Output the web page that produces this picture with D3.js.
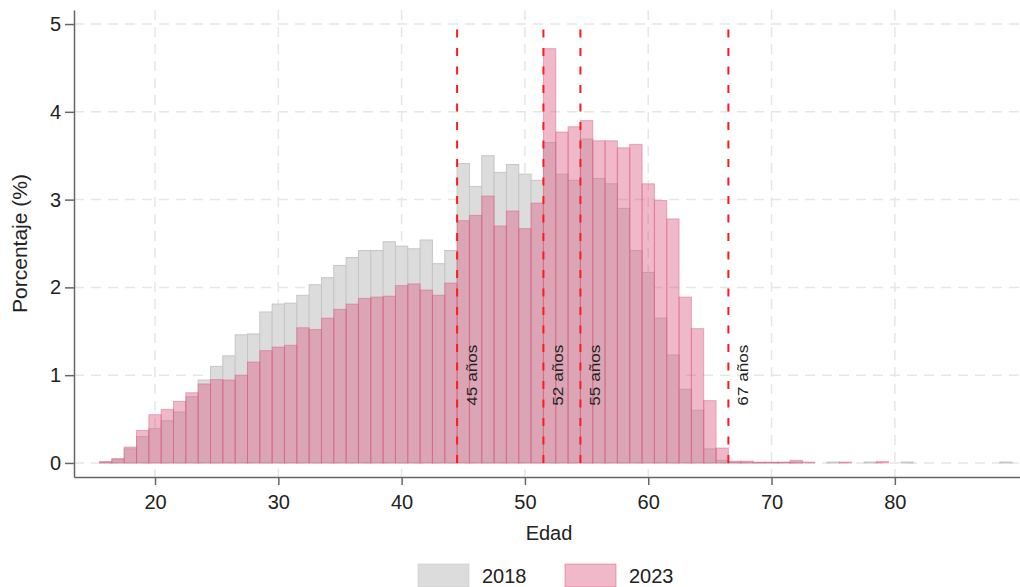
<!DOCTYPE html>
<html>
<head>
<meta charset="utf-8">
<script src="https://cdn.jsdelivr.net/npm/d3@7"></script>
<style>
  body { margin: 0; background: #fff; }
  text { font-family: "Liberation Sans", Arial, sans-serif; fill: #222; }
</style>
</head>
<body>
<div id="chart"></div>
<script>
const ages = d3.range(15, 90);

const values2018 = [
  0, 0.01, 0.04, 0.16, 0.30, 0.39, 0.48, 0.58, 0.755, 0.945,
  1.10, 1.22, 1.46, 1.47, 1.72, 1.81, 1.82, 1.91, 2.03, 2.11,
  2.25, 2.34, 2.42, 2.42, 2.52, 2.47, 2.44, 2.54, 2.27, 2.42,
  3.41, 3.15, 3.50, 3.31, 3.40, 3.29, 3.22, 3.65, 3.29, 3.22,
  3.69, 3.24, 3.18, 2.90, 2.42, 2.17, 1.65, 1.23, 0.84, 0.60,
  0.16, 0.03, 0.01, 0.01, 0.005, 0.005, 0.005, 0.01, 0, 0,
  0.01, 0, 0, 0.01, 0, 0, 0.01, 0, 0, 0,
  0, 0, 0, 0, 0.01
];

const values2023 = [
  0, 0.015, 0.05, 0.18, 0.37, 0.55, 0.61, 0.70, 0.80, 0.90,
  0.95, 0.945, 1.00, 1.15, 1.28, 1.32, 1.34, 1.54, 1.52, 1.65,
  1.75, 1.81, 1.875, 1.89, 1.90, 2.02, 2.04, 1.97, 1.91, 2.05,
  2.76, 2.82, 3.04, 2.70, 2.87, 2.67, 2.96, 4.72, 3.77, 3.83,
  3.90, 3.67, 3.67, 3.59, 3.63, 3.18, 2.99, 2.78, 1.89, 1.53,
  0.71, 0.17, 0.02, 0.02, 0.01, 0.01, 0.01, 0.03, 0.01, 0,
  0, 0.01, 0, 0, 0.015, 0, 0, 0, 0, 0,
  0, 0, 0, 0, 0
];

const xTicks = [20, 30, 40, 50, 60, 70, 80];
const yTicks = [0, 1, 2, 3, 4, 5];
const cutoffAges = [45, 52, 55, 67];
const seriesNames = ['2018', '2023'];

const size = { width: 1020, height: 587 };

const svg = d3.select('#chart').append('svg')
  .attr('width', size.width)
  .attr('height', size.height);

const x = d3.scaleLinear().domain([13.43, 90.15]).range([74, 1020]);
const y = d3.scaleLinear().domain([-0.16, 5.16]).range([477, 10]);

const colors = {
  gray: '#dcdcdc',
  grayStroke: '#c6c6c6',
  pink: 'rgb(220,87,127)',
};

createGrid();
createBars(values2018, colors.gray, 1, colors.grayStroke, 1);
createBars(values2023, colors.pink, 0.42, colors.pink, 0.45);
createCutoffs();
createAxes();
createLegend();

function createGrid() {
  const grid = svg.append('g')
    .attr('stroke', '#e6e6e6')
    .attr('stroke-width', 1.5)
    .attr('stroke-dasharray', '10,7');

  grid.selectAll('line.h')
    .data(yTicks)
    .enter().append('line')
    .attr('class', 'h')
    .attr('x1', x.range()[0])
    .attr('x2', x.range()[1])
    .attr('y1', d => y(d))
    .attr('y2', d => y(d));

  grid.selectAll('line.v')
    .data(xTicks)
    .enter().append('line')
    .attr('class', 'v')
    .attr('x1', d => x(d))
    .attr('x2', d => x(d))
    .attr('y1', y.range()[1])
    .attr('y2', y.range()[0]);
}

function createBars(values, fill, fillOpacity, stroke, strokeOpacity) {
  svg.append('g')
    .selectAll('rect')
    .data(ages.map((a, i) => ({ age: a, value: values[i] })).filter(d => d.value > 0))
    .enter().append('rect')
    .attr('x', d => x(d.age - 0.5))
    .attr('width', d => x(d.age + 0.5) - x(d.age - 0.5))
    .attr('y', d => y(d.value))
    .attr('height', d => y(0) - y(d.value))
    .attr('fill', fill)
    .attr('fill-opacity', fillOpacity)
    .attr('stroke', stroke)
    .attr('stroke-opacity', strokeOpacity)
    .attr('stroke-width', 1);
}

function createCutoffs() {
  const g = svg.append('g');

  g.selectAll('line')
    .data(cutoffAges)
    .enter().append('line')
    .attr('x1', d => x(d - 0.5))
    .attr('x2', d => x(d - 0.5))
    .attr('y1', y(0))
    .attr('y2', y(4.97))
    .attr('stroke', '#ff1a1a')
    .attr('stroke-width', 2)
    .attr('stroke-dasharray', '8,10.5');

  g.selectAll('text')
    .data(cutoffAges)
    .enter().append('text')
    .attr('transform', d => `translate(${x(d - 0.5) + 20},${y(1)}) rotate(-90)`)
    .attr('text-anchor', 'middle')
    .attr('font-size', 14)
    .attr('textLength', 61)
    .attr('lengthAdjust', 'spacingAndGlyphs')
    .text(d => `${d} años`);
}

function createAxes() {
  const xAxis = svg.append('g')
    .attr('transform', `translate(0,${y.range()[0]})`)
    .call(d3.axisBottom(x).tickValues(xTicks).tickSize(8).tickSizeOuter(0).tickPadding(10));

  const yAxis = svg.append('g')
    .attr('transform', `translate(${x.range()[0]},0)`)
    .call(d3.axisLeft(y).tickValues(yTicks).tickFormat(d3.format('d'))
      .tickSize(9).tickSizeOuter(0).tickPadding(4));

  [xAxis, yAxis].forEach(ax => {
    ax.select('.domain').attr('stroke', '#666').attr('stroke-width', 1.5);
    ax.selectAll('.tick line').attr('stroke', '#666').attr('stroke-width', 1.5);
    ax.selectAll('.tick text')
      .attr('font-size', 20)
      .attr('font-family', '"Liberation Sans", Arial, sans-serif')
      .attr('fill', '#222');
  });

  svg.append('text')
    .attr('x', 549)
    .attr('y', 540)
    .attr('text-anchor', 'middle')
    .attr('font-size', 20)
    .text('Edad');

  svg.append('text')
    .attr('transform', `translate(27,${y(2.5)}) rotate(-90)`)
    .attr('text-anchor', 'middle')
    .attr('font-size', 21)
    .text('Porcentaje (%)');
}

function createLegend() {
  const items = [
    { name: seriesNames[0], fill: colors.gray, opacity: 1, stroke: colors.grayStroke },
    { name: seriesNames[1], fill: colors.pink, opacity: 0.42, stroke: colors.pink },
  ];
  const offsets = [418, 565];

  const legend = svg.selectAll('g.legend')
    .data(items)
    .enter().append('g')
    .attr('class', 'legend')
    .attr('transform', (d, i) => `translate(${offsets[i]},564)`);

  legend.append('rect')
    .attr('width', 51)
    .attr('height', 23)
    .attr('fill', d => d.fill)
    .attr('fill-opacity', d => d.opacity)
    .attr('stroke', d => d.stroke)
    .attr('stroke-opacity', 0.5);

  legend.append('text')
    .attr('x', 64)
    .attr('y', 19)
    .attr('font-size', 20)
    .text(d => d.name);
}
</script>
</body>
</html>
